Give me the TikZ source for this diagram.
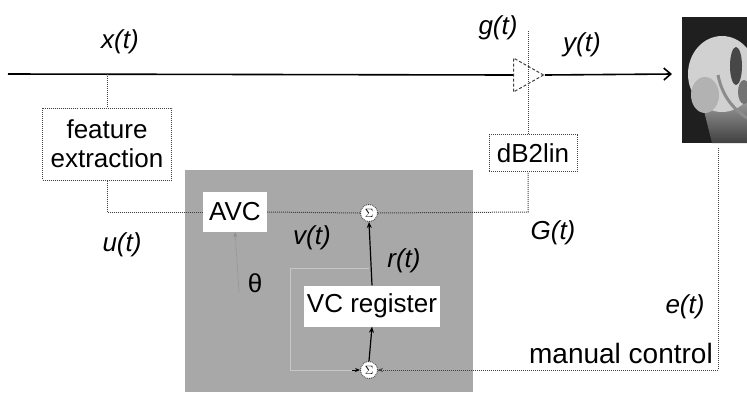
\documentclass[tikz,border=0pt]{standalone}
\usepackage{fontspec}
\setmainfont{Liberation Sans}
\usetikzlibrary{shapes.geometric,arrows.meta}
\begin{document}
\begin{tikzpicture}[x=1pt,y=-1pt,
  lbl/.style={font=\fontsize{26}{29}\selectfont\itshape, inner sep=0pt},
  txt/.style={font=\fontsize{26}{29}\selectfont, inner sep=0pt},
  dotbox/.style={draw=black!75, densely dotted, line width=1pt, fill=white, align=center, inner sep=1pt, font=\fontsize{26}{29}\selectfont},
  whitebox/.style={fill=white, inner sep=3pt, font=\fontsize{26}{27}\selectfont},
  sumnode/.style={circle, draw=black!75, densely dotted, line width=0.9pt, fill=white, minimum size=17pt, inner sep=0pt, font=\fontsize{12}{12}\selectfont},
  conn/.style={draw=black!75, densely dotted, line width=1pt},
  loopline/.style={draw=black!22, line width=0.9pt},
  sig/.style={draw=black, line width=1.6pt},
  tip/.style={-{Stealth[length=6pt,width=5pt]}}
]
\useasboundingbox (0,0) rectangle (747,392);
% shaded AVC block
\fill[black!34] (185,170) rectangle (473,392);
% ear picture
\begin{scope}
  \clip (682,17) rectangle (747,143);
  \fill[black!88] (682,17) rectangle (747,143);
  \shade[top color=black!35, bottom color=black!75] (700,95) -- (747,95) -- (747,143) -- (712,143) -- cycle;
  \fill[black!18] (722,74) ellipse [x radius=34pt, y radius=38pt];
  \fill[black!30] (705,95) ellipse [x radius=14pt, y radius=18pt];
  \draw[black!45, line width=3pt] (718,75) .. controls (722,95) and (732,108) .. (747,118);
  \fill[black!72] (736,66) ellipse [x radius=6pt, y radius=19pt];
  \fill[black!55] (744,92) ellipse [x radius=6pt, y radius=12pt];
\end{scope}
% nodes
\coordinate (start) at (8,74);
\coordinate (split) at (107,74);
\coordinate (out) at (672,74);
\node[isosceles triangle, isosceles triangle stretches, draw=black!75, densely dashed, line width=1pt,
      minimum width=34pt, minimum height=30pt, inner sep=0pt, anchor=west] (amp) at (513,75) {};
\node[dotbox, minimum width=129pt, minimum height=72pt] (fe) at (107,144) {feature\\extraction};
\node[dotbox, minimum width=88pt, minimum height=37pt] (db) at (533,153) {dB2lin};
\node[whitebox, minimum width=64pt, minimum height=40pt] (avc) at (235,212) {AVC};
\node[sumnode] (s1) at (369,213) {$\Sigma$};
\node[whitebox, minimum width=134pt, minimum height=41pt] (vc) at (372,306) {VC register};
\node[sumnode] (s2) at (369,370) {$\Sigma$};
\coordinate (ear) at (718,148);
\coordinate (corner) at (718,370);
\coordinate (gtop) at (528,30);
\coordinate (gcorner) at (528,212);
\coordinate (fcorner) at (107,212);
\coordinate (ltap) at (369,268);
\coordinate (ltl) at (290,268);
\coordinate (lbl) at (290,370);
\coordinate (th) at (239,292);
% main signal path
\draw[sig] (start) -- (amp.west);
\draw[sig, -{Straight Barb[length=7pt,width=12pt]}] (amp.apex) -- (out);
% dotted control paths
\draw[conn] (split) -- (fe.north);
\draw[conn] (fe.south) -- (fcorner) -- (avc.west);
\draw[conn] (avc.east) -- (s1.west);
\draw[conn] (s1.east) -- (gcorner) -- (gcorner |- db.south);
\draw[conn] (gcorner |- db.north) -- (gtop);
\draw[conn] (ear) -- (corner) -- (s2.east);
\draw[conn, -{Stealth[length=5pt,width=4pt]}] ([xshift=8pt]s2.east) -- (s2.east);
\draw[draw=black!45, densely dotted, line width=0.8pt, -{Stealth[length=5pt,width=4pt]}] (th) -- (avc.south);
% loop
\draw[loopline] (ltap) -- (ltl) -- (lbl) -- (s2.west);
\draw[loopline, -{Stealth[length=5pt,width=4pt]}, draw=black] ([xshift=-8pt]s2.west) -- (s2.west);
\draw[black, line width=1.2pt, tip] (vc.north) -- (s1.south);
\draw[black, line width=1.2pt, tip] (s2.north) -- (vc.south);
% labels
\node[lbl] (lx) at (120,42) {x(t)};
\node[lbl] (lg) at (498,28) {g(t)};
\node[lbl] (ly) at (582,45) {y(t)};
\node[lbl] (lu) at (122,245) {u(t)};
\node[lbl] (lv) at (312,238) {v(t)};
\node[lbl] (lr) at (404,261) {r(t)};
\node[lbl] (lG) at (553,233) {G(t)};
\node[lbl] (le) at (685,307) {e(t)};
\node[txt, anchor=east, font=\fontsize{28}{30}\selectfont] (lm) at (713,353) {manual control};
\node[txt] (lth) at (255,283) {θ};
\end{tikzpicture}
\end{document}
